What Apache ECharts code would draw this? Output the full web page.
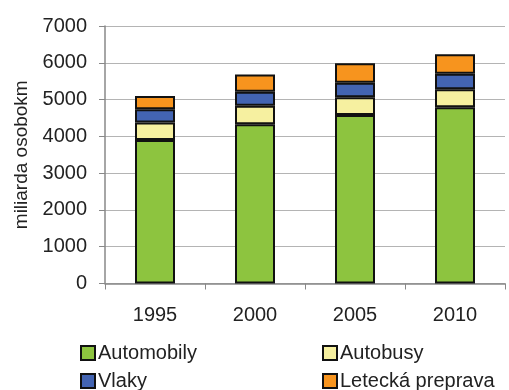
<!DOCTYPE html>
<html><head><meta charset="utf-8">
<script src="https://cdn.jsdelivr.net/npm/echarts@6/dist/echarts.min.js"></script>
<style>html,body{margin:0;padding:0;background:#fff}#c{width:509px;height:390px}</style>
</head><body><div id="c"></div>
<script>
const years = ['1995','2000','2005','2010'];
const automobily = [3900, 4330, 4580, 4790];
const autobusy = [480, 500, 480, 490];
const vlaky = [360, 380, 400, 420];
const letecka = [360, 470, 530, 530];
const yTicks = [0, 1000, 2000, 3000, 4000, 5000, 6000, 7000];
const names = ['Automobily','Autobusy','Vlaky','Letecká preprava'];
const colors = ['#8dc43f','#f6f0a0','#4364b2','#f7941e'];
const values = [automobily, autobusy, vlaky, letecka];

const font = 'Liberation Sans, Arial, sans-serif';
const chart = echarts.init(document.getElementById('c'));
const legendPos = [[80,343],[322,343],[80,371],[322,371]];
chart.setOption({
  animation:false,
  textStyle:{fontFamily:font},
  grid:{left:105,right:4,top:26,bottom:106.5},
  legend: names.map((n,i)=>({
    data:[n], left:legendPos[i][0], top:legendPos[i][1], itemWidth:14, itemHeight:14, itemGap:4,
    icon:'rect', textStyle:{fontSize:20,color:'#222',fontFamily:font, padding:[0,0,0,-2]}, padding:0
  })),
  xAxis:{type:'category', data:years,
    axisLine:{lineStyle:{color:'#888',width:1.5}},
    axisTick:{show:true,length:6,lineStyle:{color:'#888'}},
    axisLabel:{fontSize:20,color:'#222',margin:22,fontFamily:font}},
  yAxis:{type:'value', min:yTicks[0], max:yTicks[yTicks.length-1], interval:1000,
    name:'miliarda osobokm', nameLocation:'middle', nameGap:72, nameRotate:90,
    nameTextStyle:{fontSize:19,color:'#222',fontFamily:font},
    axisLine:{show:true,lineStyle:{color:'#888',width:1.5}},
    axisTick:{show:true,length:6,lineStyle:{color:'#888'}},
    splitLine:{lineStyle:{color:'#b4b4b4',width:1}},
    axisLabel:{fontSize:20,color:'#222',margin:18,fontFamily:font, formatter:v=>String(v)}},
  series: names.map((n,i)=>({
    name:n, type:'bar', stack:'t', data:values[i], barWidth:40,
    itemStyle:{color:colors[i], borderColor:'#111', borderWidth:2}
  }))
});
</script></body></html>
